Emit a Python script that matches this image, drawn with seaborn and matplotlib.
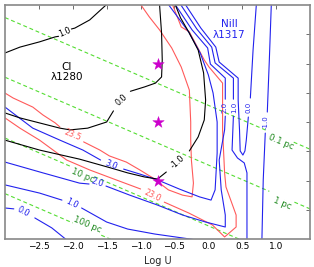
import numpy as np
import matplotlib
matplotlib.use("Agg")
import matplotlib.pyplot as plt
import seaborn as sns

sns.set_style("white")
plt.rcParams['font.family'] = ['DejaVu Sans']

nan = np.nan

# ---------------- data (log U, log n) ----------------
# C I lambda1280 contours (black)
ci_p10_x = [-3.00, -2.78, -2.49, -2.26, -2.21, nan, -2.02, -1.97, -1.75, -1.50]
ci_p10_y = [7.36, 7.56, 7.74, 7.91, 7.93, nan, 8.18, 8.21, 8.49, 9.02]
ci_00_x = [-3.00, -2.78, -2.19, -2.04, -1.78, -1.50, -1.40, nan, -1.15, -0.94, -0.78, -0.69, -0.68, -0.69, -0.72]
ci_00_y = [5.31, 5.14, 4.79, 4.73, 4.79, 5.00, 5.38, nan, 6.05, 6.20, 6.33, 6.54, 7.12, 8.04, 9.02]
ci_m10_x = [-0.49, -0.41, -0.29, -0.15, -0.07, -0.04, -0.06, -0.15, -0.28, nan, -0.62, -0.75, -0.94, -1.19, -1.44, -1.90, -2.49, -3.00]
ci_m10_y = [9.02, 8.56, 8.08, 7.46, 6.68, 5.75, 5.07, 4.49, 4.01, nan, 3.29, 3.05, 3.12, 3.26, 3.43, 3.73, 4.04, 4.38]

# red contours
r235_x = [-3.00, -2.88, -2.59, -2.44, -2.26, -2.19, nan, -1.84, -1.60, -1.46, -1.21, -1.01, -0.82, -0.59, -0.38, -0.24,
          -0.22, -0.25, -0.26, -0.26, -0.28, -0.40, -0.54, -0.72, -0.87, -1.00]
r235_y = [5.99, 5.82, 5.51, 5.24, 4.97, 4.83, nan, 4.32, 4.04, 3.84, 3.63, 3.36, 3.09, 2.68, 2.50, 2.44,
          2.91, 3.70, 4.38, 5.00, 6.09, 6.88, 7.53, 8.15, 8.59, 9.02]
r230_x = [-3.00, -2.78, -2.49, -2.09, -1.75, -1.44, -1.00, nan, -0.65, -0.29, 0.06, 0.24, 0.41, 0.41, 0.26, 0.24,
          0.21, 0.21, 0.01, -0.06, -0.28, -0.40, -0.53]
r230_y = [5.14, 4.79, 4.38, 3.70, 3.36, 3.09, 2.71, nan, 2.26, 1.89, 1.48, 1.07, 1.41, 1.82, 2.78, 3.26,
          4.73, 6.33, 6.88, 7.12, 8.08, 8.25, 9.02]

# Ni II lambda1317 contours (blue)
b30_x = [-3.00, -2.59, -2.19, -1.85, -1.59, nan, -1.25, -1.01, -0.75, -0.43, -0.13, 0.04, 0.10, 0.13, 0.13, 0.07,
         0.00, -0.12, -0.29, -0.59]
b30_y = [5.51, 4.79, 4.38, 4.04, 3.70, nan, 3.39, 3.22, 3.02, 2.71, 2.44, 2.33, 2.68, 3.94, 5.00, 5.99,
         6.61, 7.36, 8.08, 9.02]
b20_x = [-3.00, -2.44, -1.90, -1.76, nan, -1.51, -1.16, -0.75, -0.38, -0.04, 0.25, 0.25, 0.19, 0.16, 0.24, 0.25,
         nan, 0.25, 0.25, 0.03, -0.01, -0.24, -0.49]
b20_y = [3.63, 3.26, 2.91, 2.88, nan, 2.81, 2.50, 2.16, 1.82, 1.58, 1.41, 1.82, 2.68, 3.70, 4.73, 5.20,
         nan, 5.78, 6.50, 6.98, 7.53, 8.15, 9.02]
b10a_x = [-3.00, -2.49, -2.16, nan, -1.87, -1.50, -1.19, -0.79, -0.06]
b10a_y = [2.85, 2.57, 2.33, nan, 2.06, 1.58, 1.34, 1.17, 0.93]
b10b_x = [0.57, 0.57, 0.53, 0.43, 0.35, 0.37, nan, 0.37, 0.37, 0.10, 0.05, -0.17, -0.41]
b10b_y = [0.93, 3.26, 3.60, 3.77, 4.04, 5.20, nan, 5.78, 6.50, 7.02, 7.56, 8.18, 9.02]
b00a_x = [-3.00, -2.87, nan, -2.56, -2.31, -2.07]
b00a_y = [2.06, 2.03, nan, 1.72, 1.38, 0.93]
b00b_x = [0.71, 0.66, 0.62, nan, 0.59, 0.56, 0.54, 0.51, 0.47, 0.46, 0.44, 0.44, 0.16, 0.11, -0.11, -0.34]
b00b_y = [9.07, 7.46, 5.82, nan, 5.17, 4.38, 4.01, 3.87, 4.01, 4.73, 5.75, 6.50, 7.05, 7.56, 8.21, 9.02]
bm10_x = [0.93, 0.90, 0.87, nan, 0.84, 0.81, 0.79]
bm10_y = [9.07, 7.12, 5.34, nan, 4.62, 3.02, 0.93]

# distance lines (green dashed)
d01_x = [-3.0, 0.88, nan, 1.26, 1.55]
d01_y = [8.57, 4.69, nan, 4.31, 4.02]
d1_x = [-3.0, 0.90, nan, 1.27, 1.55]
d1_y = [6.53, 2.63, nan, 2.26, 1.98]
d10_x = [-3.0, -2.02, nan, -1.68, 1.5]
d10_y = [4.45, 3.47, nan, 3.13, -0.05]
d100_x = [-3.0, -2.00, nan, -1.58, 0.0]
d100_y = [2.55, 1.55, nan, 1.13, -0.45]

# models (stars)
star_x = [-0.75, -0.75, -0.75]
star_y = [7.0, 5.0, 3.0]

xticks = [-2.5, -2.0, -1.5, -1.0, -0.5, 0.0, 0.5, 1.0]
yticks = [2, 3, 4, 5, 6, 7, 8]

# ---------------- plotting ----------------
BLUE = '#2222ee'
RED = '#ff5a5a'
GREEN = '#55dd33'
DGREEN = '#228b22'

fig = plt.figure(figsize=(3.14, 2.67), dpi=100)
ax = fig.add_axes([5 / 314, 28 / 267, 305 / 314, 234 / 267])


def draw(xs, ys, color, **kw):
    xs = np.asarray(xs, float)
    ys = np.asarray(ys, float)
    brk = np.where(np.isnan(xs))[0]
    starts = np.concatenate([[0], brk + 1])
    ends = np.concatenate([brk, [len(xs)]])
    for s, e in zip(starts, ends):
        sns.lineplot(x=xs[s:e], y=ys[s:e], sort=False, estimator=None,
                     color=color, ax=ax, **kw)


for xs, ys in [(d01_x, d01_y), (d1_x, d1_y), (d10_x, d10_y), (d100_x, d100_y)]:
    draw(xs, ys, GREEN, lw=0.8, linestyle=(0, (3.5, 2.5)))

for xs, ys in [(r235_x, r235_y), (r230_x, r230_y)]:
    draw(xs, ys, RED, lw=0.8)

for xs, ys in [(b30_x, b30_y), (b20_x, b20_y), (b10a_x, b10a_y), (b10b_x, b10b_y),
               (b00a_x, b00a_y), (b00b_x, b00b_y), (bm10_x, bm10_y)]:
    draw(xs, ys, BLUE, lw=0.8)

for xs, ys in [(ci_p10_x, ci_p10_y), (ci_00_x, ci_00_y), (ci_m10_x, ci_m10_y)]:
    draw(xs, ys, 'black', lw=0.8)

sns.scatterplot(x=star_x, y=star_y, marker='*', s=75, color='#cc00cc',
                edgecolor='#cc00cc', linewidth=0.3, ax=ax, zorder=5)

lab = dict(fontsize=5.8, ha='center', va='center')
# black labels
ax.text(-2.12, 8.06, '1.0', color='black', rotation=24, **lab)
ax.text(-1.28, 5.74, '0.0', color='black', rotation=42, **lab)
ax.text(-0.45, 3.64, '-1.0', color='black', rotation=42, **lab)
# red labels
ax.text(-2.01, 4.55, '23.5', color=RED, rotation=-22, **lab)
ax.text(-0.82, 2.50, '23.0', color=RED, rotation=-26, **lab)
# blue labels
ax.text(-1.43, 3.53, '3.0', color=BLUE, rotation=-22, **lab)
ax.text(-1.64, 2.93, '2.0', color=BLUE, rotation=-18, **lab)
ax.text(-2.01, 2.20, '1.0', color=BLUE, rotation=-26, **lab)
ax.text(-2.73, 1.92, '0.0', color=BLUE, rotation=-28, **lab)
vl = dict(fontsize=5.0, ha='center', va='center', color=BLUE, rotation=90)
ax.text(0.245, 5.49, '2.0', **vl)
ax.text(0.375, 5.49, '1.0', **vl)
ax.text(0.60, 5.50, '0.0', **vl)
ax.text(0.85, 4.98, '-1.0', **vl)
# distance labels
dl = dict(fontsize=6.2, ha='center', va='center', color=DGREEN, rotation=-23)
ax.text(1.07, 4.30, '0.1 pc', **dl)
ax.text(1.09, 2.22, '1 pc', **dl)
ax.text(-1.85, 3.17, '10 pc', **dl)
ax.text(-1.79, 1.50, '100 pc', **dl)

# species names
ax.text(-2.09, 6.71, 'CI\n\u03bb1280', color='black', fontsize=7.5,
        ha='center', va='center', linespacing=1.1)
ax.text(0.31, 8.15, 'NiII\n\u03bb1317', color=BLUE, fontsize=7.5,
        ha='center', va='center', linespacing=1.1)

ax.set_xlim(-3.0, 1.5)
ax.set_ylim(1.0, 9.0)
ax.set_xticks(xticks)
ax.set_xticklabels(['\u2212%.1f' % abs(t) if t < 0 else '%.1f' % t for t in xticks])
ax.set_yticks(yticks)
ax.set_yticklabels([])
ax.tick_params(direction='in', top=True, right=True, length=3, width=0.6,
               labelsize=6.5, pad=2.5, colors='#555555', labelcolor='black')
for sp in ax.spines.values():
    sp.set_color('#888888')
    sp.set_linewidth(1.2)
ax.set_xlabel('Log U', fontsize=7, labelpad=3)
ax.set_ylabel('')

fig.savefig('out.png', dpi=100)
